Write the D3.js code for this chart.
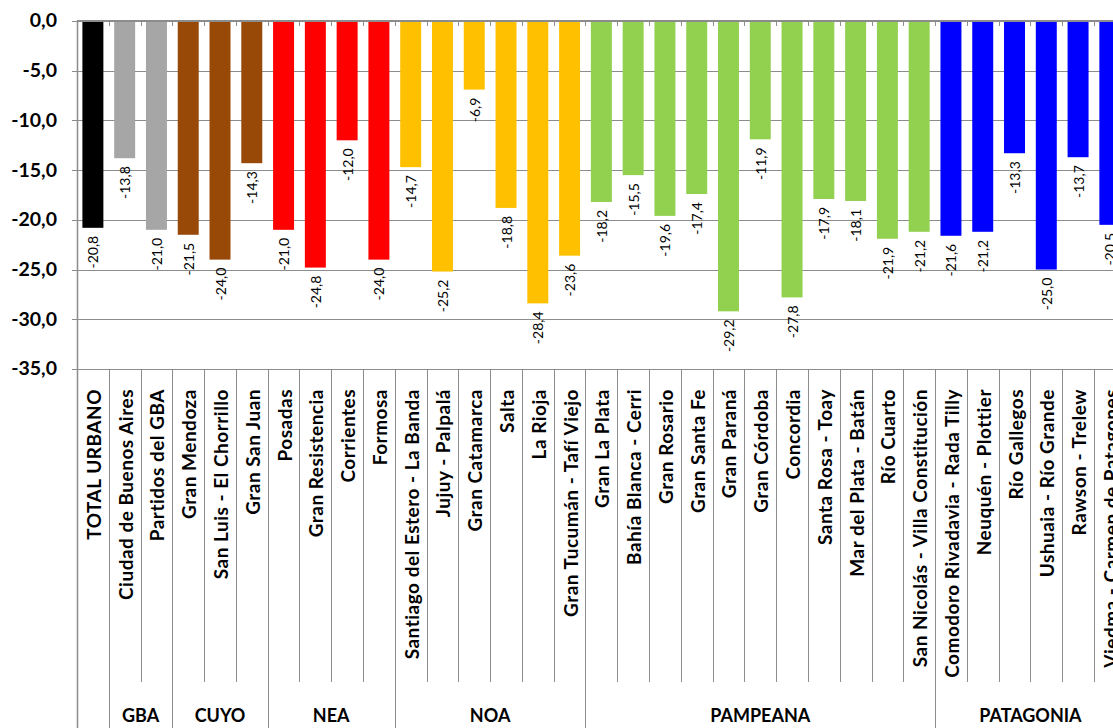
<!DOCTYPE html>
<html lang="es">
<head>
<meta charset="utf-8">
<title>Variación por aglomerado</title>
<style>
  body { margin: 0; background: #fff; }
  svg { display: block; font-family: Lato, "Open Sans", sans-serif; }
  .grid line { stroke: #8c8c8c; stroke-width: 1; }
  .ytick { font-size: 19.5px; font-weight: bold; fill: #000; }
  .val { font-size: 14px; fill: #000; }
  .cat { font-size: 19px; font-weight: bold; fill: #000; letter-spacing: 0.5px; }
  .grp { font-size: 18px; font-weight: bold; fill: #000; }
</style>
</head>
<body>
<svg id="chart"></svg>
<script src="https://d3js.org/d3.v7.min.js"></script>
<script>
const categories = [
  "TOTAL URBANO", "Ciudad de Buenos Aires", "Partidos del GBA",
  "Gran Mendoza", "San Luis - El Chorrillo", "Gran San Juan",
  "Posadas", "Gran Resistencia", "Corrientes", "Formosa",
  "Santiago del Estero - La Banda", "Jujuy - Palpalá", "Gran Catamarca", "Salta", "La Rioja", "Gran Tucumán - Tafí Viejo",
  "Gran La Plata", "Bahía Blanca - Cerri", "Gran Rosario", "Gran Santa Fe", "Gran Paraná", "Gran Córdoba", "Concordia",
  "Santa Rosa - Toay", "Mar del Plata - Batán", "Río Cuarto", "San Nicolás - Villa Constitución",
  "Comodoro Rivadavia - Rada Tilly", "Neuquén - Plottier", "Río Gallegos", "Ushuaia - Río Grande", "Rawson - Trelew",
  "Viedma - Carmen de Patagones"
];
const values = [
  -20.8, -13.8, -21.0,
  -21.5, -24.0, -14.3,
  -21.0, -24.8, -12.0, -24.0,
  -14.7, -25.2, -6.9, -18.8, -28.4, -23.6,
  -18.2, -15.5, -19.6, -17.4, -29.2, -11.9, -27.8, -17.9, -18.1, -21.9, -21.2,
  -21.6, -21.2, -13.3, -25.0, -13.7, -20.5
];
// region groups, in order, with how many categories each one spans
const groupNames = ["", "GBA", "CUYO", "NEA", "NOA", "PAMPEANA", "PATAGONIA"];
const groupSizes = [1, 2, 3, 4, 6, 11, 6];
const groupColors = ["#000000", "#a6a6a6", "#984807", "#ff0000", "#ffc000", "#92d050", "#0000ff"];
const yTicks = [0, -5, -10, -15, -20, -25, -30, -35];

const W = 1113, H = 728;
const plotLeft = 77, plotTop = 21, plotBottom = 369;
const step = 31.78;

const svg = d3.select("#chart").attr("width", W).attr("height", H);

// group index for each category
const groupOf = [];
groupSizes.forEach((n, g) => { for (let i = 0; i < n; i++) groupOf.push(g); });

const x = d3.scaleBand()
  .domain(d3.range(categories.length))
  .range([plotLeft, plotLeft + categories.length * step])
  .paddingInner(0.34)
  .paddingOuter(0.17);

const y = d3.scaleLinear().domain([0, -35]).range([plotTop, plotBottom]);

const fmt = v => d3.format(".1f")(v).replace(".", ",").replace("−", "-");
const px = v => Math.round(v) + 0.5;
const cx = i => x(i) + x.bandwidth() / 2;

// gridlines
svg.append("g").attr("class", "grid")
  .selectAll("line").data(yTicks.slice(1)).join("line")
  .attr("x1", plotLeft).attr("x2", W)
  .attr("y1", d => px(y(d))).attr("y2", d => px(y(d)));

// y tick marks and labels
svg.append("g").selectAll("line").data(yTicks).join("line")
  .attr("x1", plotLeft - 5).attr("x2", plotLeft)
  .attr("y1", d => px(y(d))).attr("y2", d => px(y(d)))
  .attr("stroke", "#8c8c8c");
svg.append("g").selectAll("text").data(yTicks).join("text")
  .attr("class", "ytick")
  .attr("x", 57).attr("y", d => y(d))
  .attr("dy", "0.33em").attr("text-anchor", "end")
  .text(d => fmt(d));

// bars
svg.append("g").selectAll("rect").data(values).join("rect")
  .attr("x", (d, i) => x(i))
  .attr("y", y(0))
  .attr("width", x.bandwidth())
  .attr("height", d => y(d) - y(0))
  .attr("fill", (d, i) => groupColors[groupOf[i]]);

// value labels
svg.append("g").selectAll("text").data(values).join("text")
  .attr("class", "val")
  .attr("transform", (d, i) => `translate(${cx(i) + 5.5},${y(d) + 8}) rotate(-90)`)
  .attr("text-anchor", "end")
  .text(d => fmt(d));

// top axis line (zero) with inner ticks
const bounds = d3.range(categories.length + 1).map(i => plotLeft + i * step);
svg.append("line")
  .attr("x1", plotLeft).attr("x2", W).attr("y1", plotTop).attr("y2", plotTop)
  .attr("stroke", "#8c8c8c").attr("stroke-width", 2);
svg.append("g").selectAll("line").data(bounds.slice(1)).join("line")
  .attr("x1", d => px(d)).attr("x2", d => px(d))
  .attr("y1", plotTop).attr("y2", plotTop + 5)
  .attr("stroke", "#8c8c8c");

// y axis line extended through label area
svg.append("line")
  .attr("x1", plotLeft + 0.5).attr("x2", plotLeft + 0.5).attr("y1", plotTop).attr("y2", H)
  .attr("stroke", "#8c8c8c").attr("stroke-width", 1.5);

// category separators
const groupStarts = d3.cumsum([0, ...groupSizes]);
svg.append("g").selectAll("line").data(bounds.slice(1)).join("line")
  .attr("x1", d => px(d)).attr("x2", d => px(d))
  .attr("y1", plotBottom)
  .attr("y2", (d, i) => groupStarts.includes(i + 1) ? H : 682)
  .attr("stroke", "#8c8c8c");

// category labels
svg.append("g").selectAll("text").data(categories).join("text")
  .attr("class", "cat")
  .attr("transform", (d, i) => `translate(${cx(i) + 8},389) rotate(-90)`)
  .attr("text-anchor", "end")
  .text(d => d);

// group labels
svg.append("g").selectAll("text").data(groupNames).join("text")
  .attr("class", "grp")
  .attr("x", (d, g) => plotLeft + (groupStarts[g] + groupSizes[g] / 2) * step)
  .attr("y", 722)
  .attr("text-anchor", "middle")
  .text(d => d);
</script>
</body>
</html>
